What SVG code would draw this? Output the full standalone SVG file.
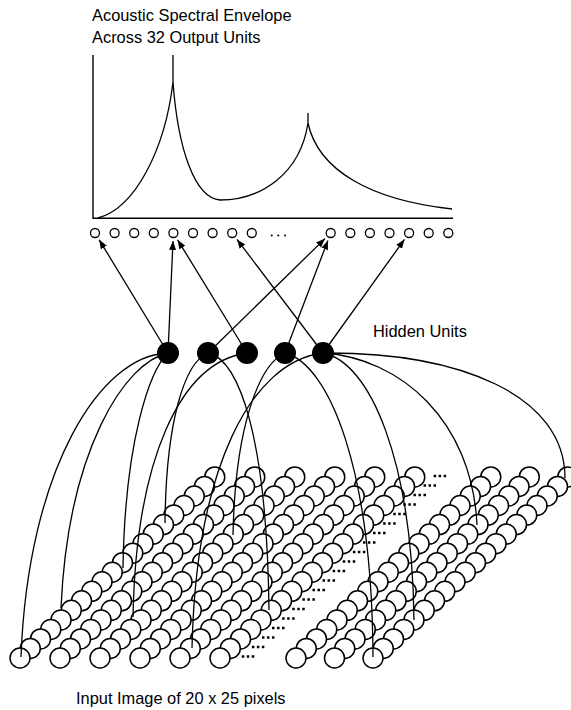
<svg xmlns="http://www.w3.org/2000/svg" width="571" height="710" viewBox="0 0 571 710">
<style>
.txt{font-family:"Liberation Sans",Arial,sans-serif;font-size:16.4px;fill:#000}
.ln{fill:none;stroke:#000;stroke-width:1.3}
.in{fill:#fff;stroke:#000;stroke-width:1.5}
.out{fill:#fff;stroke:#000;stroke-width:1.3}
.hid{fill:#000}
.ax{fill:none;stroke:#000;stroke-width:1.4}
</style>
<defs>
<marker id="ah" markerUnits="userSpaceOnUse" markerWidth="10" markerHeight="8" refX="9" refY="3.5" orient="auto">
<path d="M0,0 L9,3.5 L0,7 z" fill="#000"/>
</marker>
<g id="row">
<circle class="in" cx="194.75" cy="-181.07" r="10"/>
<circle class="in" cx="184.5" cy="-171.54" r="10"/>
<circle class="in" cx="174.25" cy="-162.01" r="10"/>
<circle class="in" cx="164" cy="-152.48" r="10"/>
<circle class="in" cx="153.75" cy="-142.95" r="10"/>
<circle class="in" cx="143.5" cy="-133.42" r="10"/>
<circle class="in" cx="133.25" cy="-123.89" r="10"/>
<circle class="in" cx="123" cy="-114.36" r="10"/>
<circle class="in" cx="112.75" cy="-104.83" r="10"/>
<circle class="in" cx="102.5" cy="-95.3" r="10"/>
<circle class="in" cx="92.25" cy="-85.77" r="10"/>
<circle class="in" cx="82" cy="-76.24" r="10"/>
<circle class="in" cx="71.75" cy="-66.71" r="10"/>
<circle class="in" cx="61.5" cy="-57.18" r="10"/>
<circle class="in" cx="51.25" cy="-47.65" r="10"/>
<circle class="in" cx="41" cy="-38.12" r="10"/>
<circle class="in" cx="30.75" cy="-28.59" r="10"/>
<circle class="in" cx="20.5" cy="-19.06" r="10"/>
<circle class="in" cx="10.25" cy="-9.53" r="10"/>
<circle class="in" cx="0" cy="0" r="10"/>
</g>
<g id="dots">
<rect x="-6.25" y="-1.25" width="2.5" height="2.5"/>
<rect x="-1.25" y="-1.25" width="2.5" height="2.5"/>
<rect x="3.75" y="-1.25" width="2.5" height="2.5"/>
</g>
</defs>
<rect width="571" height="710" fill="#fff"/>

<g id="spectrum">
<text class="txt" x="92" y="21">Acoustic Spectral Envelope</text>
<text class="txt" x="92" y="42.5">Across 32 Output Units</text>
<path class="ax" d="M93,55 V218.3 H453"/>
<path class="ln" d="M98,218 C135,208 165,150 173,82 M173,82 V55 M173,82 C178,150 195,198 220,200 C260,200 300,175 308,123 M308,123 V113 M308,123 C318,170 370,200 452,209"/>
</g>

<g id="output-units">
<circle class="out" cx="95" cy="233" r="4.5"/>
<circle class="out" cx="114.6" cy="233" r="4.5"/>
<circle class="out" cx="134.2" cy="233" r="4.5"/>
<circle class="out" cx="153.8" cy="233" r="4.5"/>
<circle class="out" cx="173.4" cy="233" r="4.5"/>
<circle class="out" cx="193" cy="233" r="4.5"/>
<circle class="out" cx="212.6" cy="233" r="4.5"/>
<circle class="out" cx="232.2" cy="233" r="4.5"/>
<circle class="out" cx="251.8" cy="233" r="4.5"/>
<circle cx="271.7" cy="235.5" r="1"/>
<circle cx="278.3" cy="235.5" r="1"/>
<circle cx="285" cy="235.5" r="1"/>
<circle class="out" cx="330.7" cy="233" r="4.5"/>
<circle class="out" cx="350.3" cy="233" r="4.5"/>
<circle class="out" cx="369.9" cy="233" r="4.5"/>
<circle class="out" cx="389.5" cy="233" r="4.5"/>
<circle class="out" cx="409.1" cy="233" r="4.5"/>
<circle class="out" cx="428.7" cy="233" r="4.5"/>
<circle class="out" cx="448.3" cy="233" r="4.5"/>
</g>

<g id="input-grid">
<use href="#row" x="20" y="658"/>
<use href="#row" x="60" y="658"/>
<use href="#row" x="100" y="658"/>
<use href="#row" x="140" y="658"/>
<use href="#row" x="180" y="658"/>
<use href="#row" x="220" y="658"/>
<use href="#row" x="296" y="658"/>
<use href="#row" x="334.5" y="658"/>
<use href="#row" x="373" y="658"/>
<use href="#dots" x="248" y="656.5"/>
<use href="#dots" x="258.1" y="647"/>
<use href="#dots" x="268.2" y="637.5"/>
<use href="#dots" x="278.3" y="628"/>
<use href="#dots" x="288.4" y="618.5"/>
<use href="#dots" x="298.5" y="609"/>
<use href="#dots" x="308.6" y="599.5"/>
<use href="#dots" x="318.7" y="590"/>
<use href="#dots" x="328.8" y="580.5"/>
<use href="#dots" x="338.9" y="571"/>
<use href="#dots" x="349" y="561.5"/>
<use href="#dots" x="359.1" y="552"/>
<use href="#dots" x="369.2" y="542.5"/>
<use href="#dots" x="379.3" y="533"/>
<use href="#dots" x="389.4" y="523.5"/>
<use href="#dots" x="399.5" y="514"/>
<use href="#dots" x="409.6" y="504.5"/>
<use href="#dots" x="419.7" y="495"/>
<use href="#dots" x="429.8" y="485.5"/>
<use href="#dots" x="439.9" y="476"/>
</g>

<g id="connectors">
<path class="ln" d="M168,353 C100,355 28,470 21,657"/>
<path class="ln" d="M168,353 C125,362 68,450 61,608"/>
<path class="ln" d="M168,353 C150,370 125,440 123,568"/>
<path class="ln" d="M247,353 C180,362 136,460 133,617"/>
<path class="ln" d="M208,353 C185,362 166,420 165,523"/>
<path class="ln" d="M208,353 C240,360 267,440 269,610"/>
<path class="ln" d="M285,353 C258,365 235,430 233,535"/>
<path class="ln" d="M285,353 C330,365 372,470 373,657"/>
<path class="ln" d="M323,353 C250,362 196,470 192,648"/>
<path class="ln" d="M323,353 C370,362 412,460 414,620"/>
<path class="ln" d="M323,353 C400,358 472,420 477,525"/>
<path class="ln" d="M323,353 C460,352 565,395 565,478"/>
<path class="ln" marker-end="url(#ah)" d="M168,353 L99.2,239.8"/>
<path class="ln" marker-end="url(#ah)" d="M168,353 L173,241"/>
<path class="ln" marker-end="url(#ah)" d="M247,353 L177.6,239.8"/>
<path class="ln" marker-end="url(#ah)" d="M208,353 L325,238.6"/>
<path class="ln" marker-end="url(#ah)" d="M285,353 L327.9,240.5"/>
<path class="ln" marker-end="url(#ah)" d="M323,353 L237,239.4"/>
<path class="ln" marker-end="url(#ah)" d="M323,353 L404.4,239.5"/>
</g>

<g id="hidden-units">
<circle id="h1" class="hid" cx="168" cy="353" r="11"/>
<circle id="h2" class="hid" cx="208" cy="353" r="11"/>
<circle id="h3" class="hid" cx="247" cy="353" r="11"/>
<circle id="h4" class="hid" cx="285" cy="353" r="11"/>
<circle id="h5" class="hid" cx="323" cy="353" r="11"/>
<text class="txt" x="373" y="337">Hidden Units</text>
</g>

<g id="caption">
<text class="txt" x="76" y="704">Input Image of 20 x 25 pixels</text>
</g>
</svg>
